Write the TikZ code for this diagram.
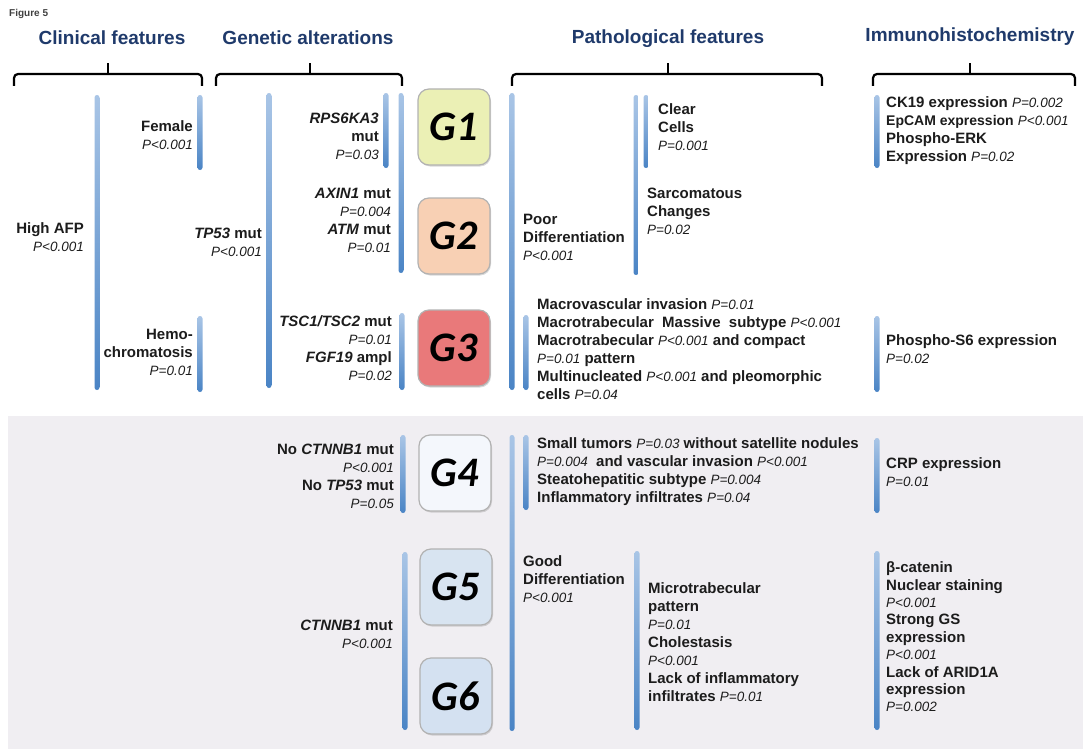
\documentclass[tikz,border=0pt]{standalone}
\usepackage{fontspec}
\setmainfont{Liberation Sans}
\newfontfamily\gfont{Carlito}
\usetikzlibrary{shadows}
\definecolor{headblue}{HTML}{1F3A6B}
\definecolor{barlight}{HTML}{A9C5E6}
\definecolor{bardark}{HTML}{4A84C5}
\definecolor{panelgray}{HTML}{F0EEF2}
\definecolor{txt}{HTML}{1C1C1C}
\definecolor{gone}{HTML}{EBF0B5}
\definecolor{gtwo}{HTML}{F8D0B4}
\definecolor{gthree}{HTML}{E9797A}
\definecolor{gfour}{HTML}{F4F7FC}
\definecolor{gfive}{HTML}{D8E4F1}
\definecolor{gsix}{HTML}{D4E1F1}
\newcommand{\pv}[1]{{\fontsize{13.5}{18}\selectfont\mdseries\itshape #1}}
\tikzset{
    header/.style = {
        font=\fontsize{19}{22}\selectfont\bfseries,
        text=headblue,
        inner sep=0pt,
        },
    brace/.style = {
        line width=2.2pt,
        rounded corners=4pt,
        },
    gbar/.style = {
        rectangle,
        rounded corners=2.5pt,
        minimum width=5pt,
        inner sep=0pt,
        top color=barlight,
        bottom color=bardark,
        },
    gbox/.style = {
        rounded corners=11pt,
        minimum width=72pt,
        minimum height=76pt,
        draw=gray!60,
        line width=1.2pt,
        font=\gfont\fontsize{42}{42}\selectfont\bfseries\itshape,
        drop shadow={shadow xshift=1pt, shadow yshift=-1.5pt, opacity=0.3},
        },
    lab/.style = {
        font=\fontsize{15}{18}\selectfont\bfseries,
        text=txt,
        inner sep=0pt,
        align=left,
        anchor=west,
        },
    labr/.style = {
        lab,
        align=right,
        anchor=east,
        },
}
\begin{document}
\begin{tikzpicture}[x=1pt, y=-1pt]
    \useasboundingbox (0,0) rectangle (1083,749);
    \fill[panelgray] (8,416) rectangle (1083,749);

    \node[font=\fontsize{10}{12}\selectfont\bfseries, text=black!75, anchor=west, inner sep=0pt] (fig) at (9,14) {Figure 5};

    % headers and braces
    \node[header] (clin) at (112,38) {Clinical features};
    \node[header] (gene) at (308,38) {Genetic alterations};
    \node[header] (path) at (668,39) {Pathological features};
    \node[header] (ihc) at (970,37) {Immunohistochemistry};
    \foreach \a/\c/\b in {14/108/202, 216/310/402, 512/668/822, 873/970/1075}{
        \draw[brace] (\a,86) |- (\c,74) -| (\b,86);
        \draw[brace] (\c,74) -- (\c,63);
    }

    % bars
    \foreach \n/\x/\a/\b in {afp/97/95/390, fem/200/95/170, hemo/200/316/392, tp/269/93/388,
        rps/386/93/168, axin/401/93/273, tsc/402/313/390,
        poor/512/93/390, sarc/636/95/275, clear/646/95/168, macro/526/315/390,
        ckbar/877/95/168, psbar/877/316/392,
        noct/403/435/513, ct/405/552/730, good/512/435/731, small/526/435/510,
        micro/637/551/730, crp/877/438/513, bcat/877/551/730}
        \node[gbar, minimum height=\b-\a] (\n) at (\x,{(\a+\b)/2}) {};

    % groups
    \node[gbox, fill=gone] (g1) at (454,127) {G1};
    \node[gbox, fill=gtwo] (g2) at (454,236) {G2};
    \node[gbox, fill=gthree] (g3) at (454,348) {G3};
    \node[gbox, fill=gfour] (g4) at (455,473) {G4};
    \node[gbox, fill=gfive] (g5) at (456,587) {G5};
    \node[gbox, fill=gsix] (g6) at (456,696) {G6};

    % clinical and genetic
    \node[labr] (afptxt) at (84,237) {High AFP\\\pv{P<0.001}};
    \node[labr] (femtxt) at (193,135) {Female\\\pv{P<0.001}};
    \node[labr] (hemotxt) at (193,352) {Hemo-\\chromatosis\\\pv{P=0.01}};
    \node[labr] (tptxt) at (262,242) {\textit{TP53} mut\\\pv{P<0.001}};
    \node[labr] (rpstxt) at (379,136) {\textit{RPS6KA3}\\mut\\\pv{P=0.03}};
    \node[labr] (axintxt) at (391,220) {\textit{AXIN1} mut\\\pv{P=0.004}\\\textit{ATM} mut\\\pv{P=0.01}};
    \node[labr] (tsctxt) at (392,348) {\textit{TSC1/TSC2} mut\\\pv{P=0.01}\\\textit{FGF19} ampl\\\pv{P=0.02}};
    \node[labr] (nocttxt) at (394,476) {No \textit{CTNNB1} mut\\\pv{P<0.001}\\No \textit{TP53} mut\\\pv{P=0.05}};
    \node[labr] (cttxt) at (393,634) {\textit{CTNNB1} mut\\\pv{P<0.001}};

    % pathology
    \node[lab] (poortxt) at (523,237) {Poor\\Differentiation\\\pv{P<0.001}};
    \node[lab] (cleartxt) at (658,127) {Clear\\Cells\\\pv{P=0.001}};
    \node[lab] (sarctxt) at (647,211) {Sarcomatous\\Changes\\\pv{P=0.02}};
    \node[lab] (macrotxt) at (537,349) {Macrovascular invasion \pv{P=0.01}\\Macrotrabecular\ \ Massive\ \ subtype \pv{P<0.001}\\Macrotrabecular \pv{P<0.001} and compact\\\pv{P=0.01} pattern\\Multinucleated \pv{P<0.001} and pleomorphic\\cells \pv{P=0.04}};
    \node[lab] (goodtxt) at (523,579) {Good\\Differentiation\\\pv{P<0.001}};
    \node[lab] (smalltxt) at (537,472) {Small tumors \pv{P=0.03} without satellite nodules\\\pv{P=0.004}\ \ and vascular invasion \pv{P<0.001}\\Steatohepatitic subtype \pv{P=0.004}\\Inflammatory infiltrates \pv{P=0.04}};
    \node[lab] (microtxt) at (648,642) {Microtrabecular\\pattern\\\pv{P=0.01}\\Cholestasis\\\pv{P<0.001}\\Lack of inflammatory\\infiltrates \pv{P=0.01}};

    % immunohistochemistry
    \node[lab] (cktxt) at (886,131) {CK19 expression \pv{P=0.002}\\{\fontsize{14}{18}\selectfont EpCAM expression} \pv{P<0.001}\\Phospho-ERK\\Expression \pv{P=0.02}};
    \node[lab] (pstxt) at (886,349) {Phospho-S6 expression\\\pv{P=0.02}};
    \node[lab] (crptxt) at (886,472) {CRP expression\\\pv{P=0.01}};
    \node[lab, font=\fontsize{15}{17.4}\selectfont\bfseries] (bcattxt) at (886,637) {β-catenin\\Nuclear staining\\\pv{P<0.001}\\Strong GS\\expression\\\pv{P<0.001}\\Lack of ARID1A\\expression\\\pv{P=0.002}};
\end{tikzpicture}
\end{document}
